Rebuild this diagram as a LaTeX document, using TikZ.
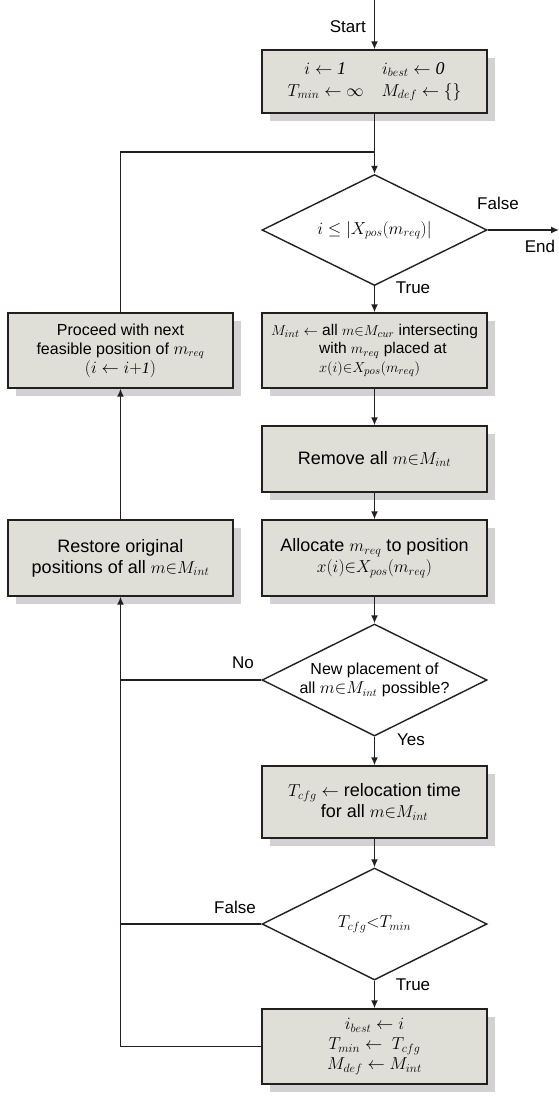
\documentclass[tikz,border=0pt]{standalone}
\usepackage{fontspec}
\setmainfont{Liberation Sans}
\newfontfamily\tms{Liberation Serif}
\newcommand{\idig}[1]{\mbox{\tms\itshape #1}}
\usetikzlibrary{shapes.geometric,arrows.meta,shadows}
\definecolor{boxfill}{HTML}{DFDFD7}
\definecolor{shade}{HTML}{D2D2D2}
\definecolor{linec}{HTML}{231F20}
\begin{document}
\begin{tikzpicture}[x=1pt,y=-1pt,
  box/.style={draw=linec,line width=1.4pt,fill=boxfill,minimum width=225pt,align=center,
    inner sep=2pt,font=\fontsize{18}{21}\selectfont,
    drop shadow={shadow xshift=8pt,shadow yshift=-8pt,fill=shade,opacity=1}},
  smallbox/.style={box,font=\fontsize{15.5}{18.5}\selectfont},
  dec/.style={draw=linec,line width=1.4pt,shape=diamond,aspect=2,inner sep=0pt,
    minimum width=225pt,minimum height=111pt,align=center,font=\fontsize{16}{19}\selectfont},
  arr/.style={draw=linec,line width=1.4pt,-{Latex[length=8pt,width=7pt]}},
  ln/.style={draw=linec,line width=1.4pt},
  lab/.style={font=\fontsize{17}{20}\selectfont,inner sep=0pt}]
\useasboundingbox (0,0) rectangle (559,1096);
% main column
\node[box,minimum height=63pt] (init) at (374.5,81.5) {$i\leftarrow \idig{1}\qquad i_{best}\leftarrow \idig{0}$\\[1pt]$T_{min}\leftarrow\infty\quad M_{def}\leftarrow\{\}$};
\node[dec,font=\fontsize{18}{21}\selectfont] (d1) at (374.5,230) {$i\leq|X_{pos}(m_{req})|$};
\node[smallbox,minimum height=75pt,align=left] (mint) at (374.5,350.5) {$M_{int}\leftarrow$ all $m{\in}M_{cur}$ intersecting\\\hspace{3.1em}with $m_{req}$ placed at\\\hspace{3.1em}$x(i){\in}X_{pos}(m_{req})$};
\node[box,minimum height=66pt] (rem) at (374.5,459) {Remove all $m{\in}M_{int}$};
\node[box,minimum height=76pt] (alloc) at (374.5,558) {Allocate $m_{req}$ to position\\$x(i){\in}X_{pos}(m_{req})$};
\node[dec,minimum height=112pt] (d2) at (374.5,680) {New placement of\\all $m{\in}M_{int}$ possible?};
\node[box,minimum height=72pt] (tcfg) at (374.5,802) {$T_{cfg}\leftarrow$ relocation time\\for all $m{\in}M_{int}$};
\node[dec,minimum height=112pt,font=\fontsize{18}{21}\selectfont] (d3) at (374.5,924) {$T_{cfg}{<}T_{min}$};
\node[box,minimum height=75pt,font=\fontsize{18}{20}\selectfont] (best) at (374.5,1046.5) {$i_{best}\leftarrow i$\\$T_{min}\leftarrow\; T_{cfg}$\\$M_{def}\leftarrow M_{int}$};
% left column
\node[smallbox,minimum height=75pt,font=\fontsize{16}{19}\selectfont] (proc) at (120.5,350.5) {Proceed with next\\feasible position of $m_{req}$\\$(i\leftarrow i{+}\idig{1})$};
\node[box,minimum height=76pt] (rest) at (120.5,558) {Restore original\\positions of all $m{\in}M_{int}$};
% coordinates
\coordinate (st) at (374.5,0);
\coordinate (j1) at (374.5,152);
\coordinate (tl) at (120.5,152);
\coordinate (en) at (559,230);
% connectors
\draw[arr] (st) -- node[lab,left=8pt,pos=0.55] {Start} (init.north);
\draw[ln] (init.south) -- (j1);
\draw[arr] (j1) -- (d1.north);
\draw[ln] (proc.north) -- (tl) -- (j1);
\draw[arr] (d1.east) -- (en);
\node[lab] at (498,203) {False};
\node[lab] at (540,246) {End};
\draw[arr] (d1.south) -- (mint.north);
\node[lab] at (413,288) {True};
\draw[arr] (mint.south) -- (rem.north);
\draw[arr] (rem.south) -- (alloc.north);
\draw[arr] (alloc.south) -- (d2.north);
\draw[arr] (d2.south) -- (tcfg.north);
\node[lab] at (411,740) {Yes};
\draw[arr] (tcfg.south) -- (d3.north);
\draw[arr] (d3.south) -- (best.north);
\node[lab] at (413,985) {True};
\draw[ln] (d2.west) -- (d2.west -| rest.south);
\node[lab] at (243,663) {No};
\draw[ln] (d3.west) -- (d3.west -| rest.south);
\node[lab] at (235,907) {False};
\draw[arr] (best.west) -- (best.west -| rest.south) -- (rest.south);
\draw[arr] (rest.north) -- (proc.south);
\end{tikzpicture}
\end{document}
